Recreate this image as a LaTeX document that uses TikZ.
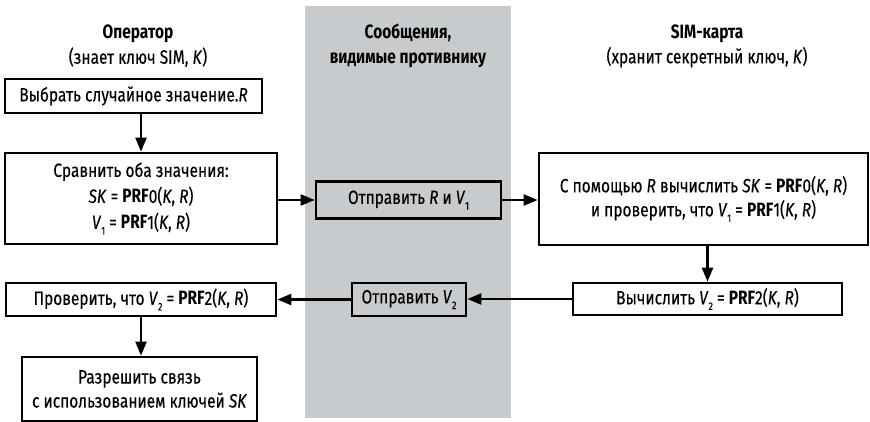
\documentclass[tikz,border=0pt]{standalone}
\usepackage{fontspec}
\setmainfont{Fira Sans}[FakeStretch=0.8,
    UprightFeatures={FakeBold=0.25}, ItalicFeatures={FakeBold=0.25}]
\usetikzlibrary{arrows.meta, positioning}
\definecolor{bandgray}{RGB}{200, 203, 205}
\newcommand{\lowidx}[1]{\raisebox{-0.55ex}{\fontsize{11}{11}\selectfont #1}}
\newcommand{\prf}{\textbf{PRF}}

\begin{document}
\begin{tikzpicture}[x=1pt, y=-1pt, >={Triangle[length=14pt, width=11pt]},
    font=\fontsize{19.3}{24}\selectfont,
    stepbox/.style={draw, line width=2.7pt, inner sep=0pt, align=center},
    msgbox/.style={stepbox, fill=bandgray},
    flow/.style={->, line width=2.3pt}]
\useasboundingbox (0,0) rectangle (870,421);

% === Канал противника ===
\fill[bandgray] (305,6) rectangle (511,418);

% === Заголовки ===
\node[align=center] (hop) at (138,46) {\textbf{Оператор}\\[1pt](знает ключ SIM, \textit{K})};
\node[align=center] (hmsg) at (408,46) {\textbf{Сообщения,}\\[1pt]\textbf{видимые противнику}};
\node[align=center] (hsim) at (707,46) {\textbf{SIM-карта}\\[1pt](хранит секретный ключ, \textit{K})};

% === Оператор ===
\node[stepbox, minimum width=257, minimum height=34] (pick) at (133.5,96)
    {Выбрать случайное значение.\textit{R}};
\node[stepbox, minimum width=272, minimum height=91] (calc) at (141,198.5)
    {Сравнить оба значения:\\[2pt]
     \textit{SK} = \prf0(\textit{K}, \textit{R})\\[2pt]
     \textit{V}\lowidx{1} = \prf1(\textit{K}, \textit{R})};
\node[stepbox, minimum width=270, minimum height=33] (check) at (141,299.5)
    {Проверить, что \textit{V}\lowidx{2} = \prf2(\textit{K}, \textit{R})};
\node[stepbox, minimum width=235, minimum height=64] (allow) at (139.5,389)
    {Разрешить связь\\с использованием ключей \textit{SK}};

% === Сообщения ===
\node[msgbox, minimum width=185, minimum height=37] (sendone) at (408.5,200)
    {Отправить \textit{R} и \textit{V}\lowidx{1}};
\node[msgbox, minimum width=114, minimum height=33] (sendtwo) at (409,299.5)
    {Отправить \textit{V}\lowidx{2}};

% === SIM-карта ===
\node[stepbox, minimum width=329, minimum height=92] (simcalc) at (703.5,199)
    {С помощью \textit{R} вычислить \textit{SK} = \prf0(\textit{K},\ \textit{R})\\
     и проверить, что \textit{V}\lowidx{1} = \prf1(\textit{K},\ \textit{R})};
\node[stepbox, minimum width=269, minimum height=32] (simtwo) at (707.5,299)
    {Вычислить \textit{V}\lowidx{2} = \prf2(\textit{K},\ \textit{R})};

% === Стрелки ===
\draw[flow] (calc.north |- pick.south) -- (calc.north);
\draw[flow] (calc.east |- sendone.west) -- (sendone.west);
\draw[flow] (sendone.east) -- (sendone.east -| simcalc.west);
\draw[flow] (simtwo.north |- simcalc.south) -- (simtwo.north);
\draw[flow] (simtwo.west) -- (simtwo.west -| sendtwo.east);
\draw[flow] (sendtwo.west) -- (sendtwo.west -| check.east);
\draw[flow] (check.south) -- (check.south |- allow.north);

\end{tikzpicture}
\end{document}
